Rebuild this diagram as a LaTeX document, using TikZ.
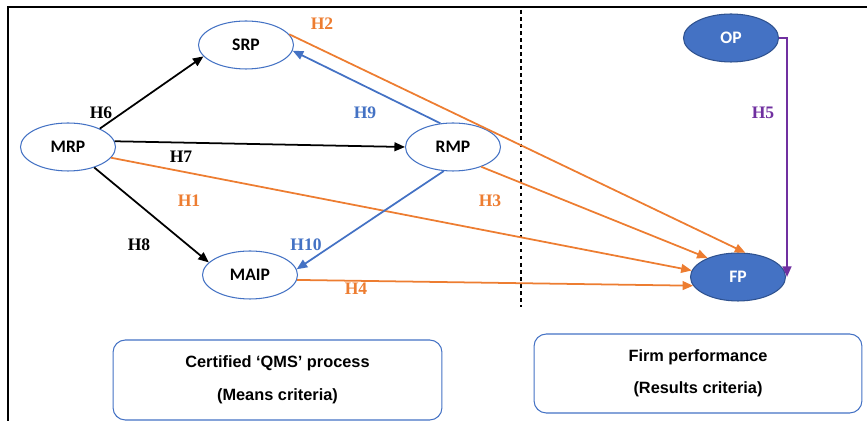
\documentclass[tikz,border=0pt]{standalone}
\usepackage{fontspec}
\setmainfont{Liberation Serif}
\newfontfamily\ovalfont{Carlito}
\newfontfamily\boxfont{Liberation Sans}
\usetikzlibrary{shapes.geometric, arrows.meta, positioning, calc}
\definecolor{hypblue}{RGB}{68, 114, 196}
\definecolor{hyporange}{RGB}{237, 125, 49}
\definecolor{hyppurple}{RGB}{112, 48, 160}
\definecolor{opborder}{RGB}{47, 82, 143}

\begin{document}
\begin{tikzpicture}[x=0.02cm, y=-0.02cm,
    construct/.style={ellipse, draw=hypblue, line width=0.6pt, fill=white, minimum width=1.9cm, minimum height=0.96cm, inner sep=0pt, font=\ovalfont\bfseries\fontsize{10}{12}\selectfont},
    outcome/.style={construct, draw=opborder, fill=hypblue, text=white},
    critbox/.style={draw=hypblue, rounded corners=7pt, line width=0.6pt, align=center, inner sep=0pt, font=\boxfont\bfseries\fontsize{9.3}{18.5}\selectfont},
    hyp/.style={line width=1pt, -{Triangle[length=6pt, width=5pt]}},
    hlabel/.style={font=\bfseries\fontsize{10}{12}\selectfont}]
  \useasboundingbox (0,0) rectangle (867,421);

  % frame and divider
  \draw[line width=0.8pt] (8,421) -- (8,7) -- (867,7);
  \draw[line width=0.8pt, dash pattern=on 2pt off 2pt] (521,10) -- (521,307);

  % constructs
  \node[construct] (srp) at (246,45) {SRP};
  \node[construct] (mrp) at (68,147) {MRP};
  \node[construct] (rmp) at (453,147) {RMP};
  \node[construct] (maip) at (250,275) {MAIP};
  \node[outcome] (op) at (731,38) {OP};
  \node[outcome] (fp) at (738,277) {FP};

  % criteria boxes
  \node[critbox, minimum width=6.58cm, minimum height=1.6cm] (means) at (277.5,380) {Certified ‘QMS’ process\\(Means criteria)};
  \node[critbox, minimum width=6.56cm, minimum height=1.58cm] (results) at (698,373.5) {Firm performance\\(Results criteria)};

  % hypotheses
  \draw[hyp] (mrp.30) -- (srp.195);
  \draw[hyp] (mrp.7) -- (rmp.180);
  \draw[hyp] (mrp.-38) -- (maip.163);
  \draw[hyp, hyporange] (mrp.-14) -- (fp.172);
  \draw[hyp, hyporange] (srp.14) -- (fp.73);
  \draw[hyp, hyporange] (rmp.-35) -- (fp.148);
  \draw[hyp, hyporange] (maip.-6) -- (fp.191);
  \draw[hyp, hypblue] (rmp.118) -- (srp.-7);
  \draw[hyp, hypblue] (rmp.249) -- (maip.7);
  \coordinate (h5turn) at (787,38);
  \draw[hyp, hyppurple] (op.east) -- (h5turn) -- (h5turn |- fp.east);

  % labels
  \node[hlabel, text=hyporange] (h2lbl) at (322,24) {H2};
  \node[hlabel] (h6lbl) at (101,113) {H6};
  \node[hlabel, text=hypblue] (h9lbl) at (365,113) {H9};
  \node[hlabel] (h7lbl) at (181,157) {H7};
  \node[hlabel, text=hyporange] (h1lbl) at (189,201) {H1};
  \node[hlabel, text=hyporange] (h3lbl) at (490,201) {H3};
  \node[hlabel] (h8lbl) at (139,245) {H8};
  \node[hlabel, text=hypblue] (h10lbl) at (306,245) {H10};
  \node[hlabel, text=hyporange] (h4lbl) at (356,289) {H4};
  \node[hlabel, text=hyppurple] (h5lbl) at (763,113) {H5};
\end{tikzpicture}
\end{document}
